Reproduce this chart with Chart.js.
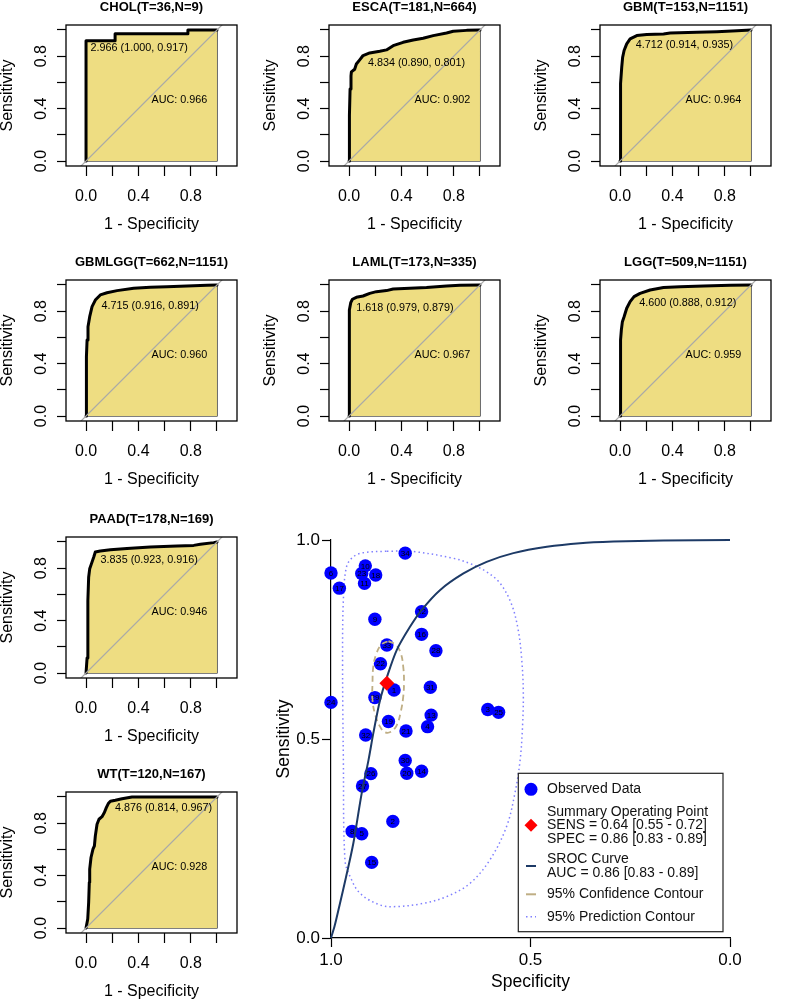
<!DOCTYPE html>
<html>
<head>
<meta charset="utf-8">
<script src="https://cdn.jsdelivr.net/npm/chart.js@4.4.0/dist/chart.umd.min.js"></script>
<style>
  body { margin: 0; background: #fff; width: 796px; height: 1002px; position: relative; overflow: hidden; }
  canvas { position: absolute; }
</style>
</head>
<body>
<script>
Chart.defaults.font.family = '"Liberation Sans", Arial, sans-serif';
Chart.defaults.color = '#000';
Chart.defaults.animation = false;

// per-cancer ROC panels
const PANELS   = ['CHOL', 'ESCA', 'GBM', 'GBMLGG', 'LAML', 'LGG', 'PAAD', 'WT'];
const PANEL_T  = [36, 181, 153, 662, 173, 509, 178, 120];
const PANEL_N  = [9, 664, 1151, 1151, 335, 1151, 169, 167];
const CUTOFFS  = ['2.966', '4.834', '4.712', '4.715', '1.618', '4.600', '3.835', '4.876'];
const CUT_SPEC = [1.000, 0.890, 0.914, 0.916, 0.979, 0.888, 0.923, 0.814];
const CUT_SENS = [0.917, 0.801, 0.935, 0.891, 0.879, 0.912, 0.916, 0.967];
const AUCS     = [0.966, 0.902, 0.964, 0.960, 0.967, 0.959, 0.946, 0.928];

// ROC curves (1 - specificity, sensitivity)
const CHOL_FPR = [0, 0, 0.222, 0.222, 0.778, 0.778, 1];
const CHOL_TPR = [0, 0.917, 0.917, 0.972, 0.972, 1, 1];
const ESCA_FPR = [0, 0.003, 0.008, 0.015, 0.018, 0.043, 0.056, 0.08, 0.107, 0.158, 0.235, 0.286, 0.337, 0.413, 0.49, 0.566, 0.643, 0.745, 0.796, 0.898, 1];
const ESCA_TPR = [0, 0.35, 0.55, 0.65, 0.68, 0.70, 0.74, 0.77, 0.805, 0.825, 0.838, 0.848, 0.88, 0.906, 0.924, 0.937, 0.957, 0.977, 0.99, 0.997, 1];
const GBM_FPR = [0, 0.003, 0.005, 0.013, 0.020, 0.031, 0.051, 0.077, 0.128, 0.204, 0.332, 0.383, 0.587, 0.740, 0.893, 1];
const GBM_TPR = [0, 0.463, 0.59, 0.716, 0.792, 0.843, 0.894, 0.932, 0.957, 0.965, 0.970, 0.977, 0.982, 0.987, 0.995, 1];
const GBMLGG_FPR = [0, 0.003, 0.003, 0.008, 0.015, 0.028, 0.046, 0.071, 0.109, 0.160, 0.237, 0.364, 0.491, 0.618, 0.771, 0.924, 1];
const GBMLGG_TPR = [0, 0.326, 0.453, 0.580, 0.682, 0.758, 0.835, 0.885, 0.924, 0.941, 0.957, 0.975, 0.982, 0.987, 0.992, 0.997, 1];
const LAML_FPR = [0, 0, 0.005, 0.013, 0.026, 0.056, 0.107, 0.158, 0.209, 0.286, 0.337, 0.464, 0.592, 0.745, 0.847, 1];
const LAML_TPR = [0, 0.746, 0.809, 0.865, 0.891, 0.906, 0.916, 0.936, 0.949, 0.957, 0.969, 0.975, 0.980, 0.992, 0.997, 1];
const LGG_FPR = [0, 0.003, 0.005, 0.010, 0.018, 0.031, 0.051, 0.077, 0.107, 0.153, 0.230, 0.332, 0.459, 0.638, 0.842, 1];
const LGG_TPR = [0, 0.504, 0.580, 0.656, 0.720, 0.758, 0.822, 0.873, 0.911, 0.936, 0.962, 0.980, 0.987, 0.992, 0.997, 1];
const PAAD_FPR = [0, 0.008, 0.013, 0.015, 0.020, 0.028, 0.041, 0.059, 0.071, 0.109, 0.186, 0.313, 0.491, 0.695, 0.822, 0.873, 0.975, 1];
const PAAD_TPR = [0, 0.115, 0.321, 0.551, 0.731, 0.795, 0.833, 0.885, 0.923, 0.931, 0.941, 0.951, 0.962, 0.969, 0.974, 0.982, 0.995, 1];
const WT_FPR = [0, 0.013, 0.020, 0.025, 0.028, 0.038, 0.053, 0.064, 0.071, 0.084, 0.099, 0.122, 0.140, 0.155, 0.170, 0.186, 0.224, 0.275, 0.351, 1];
const WT_TPR = [0, 0.069, 0.195, 0.348, 0.449, 0.538, 0.602, 0.627, 0.703, 0.792, 0.830, 0.850, 0.881, 0.919, 0.950, 0.967, 0.975, 0.987, 1.0, 1];

const ROC_FPR = [CHOL_FPR, ESCA_FPR, GBM_FPR, GBMLGG_FPR, LAML_FPR, LGG_FPR, PAAD_FPR, WT_FPR];
const ROC_TPR = [CHOL_TPR, ESCA_TPR, GBM_TPR, GBMLGG_TPR, LAML_TPR, LGG_TPR, PAAD_TPR, WT_TPR];
const ROC_TICKS = [0, 0.2, 0.4, 0.6, 0.8, 1];
const ROC_TICK_LABELS = ['0.0', '', '0.4', '', '0.8', ''];
const DIAG = [-0.2, 1.2];
// outline closing the AUC polygon (right edge and baseline)
const AUC_EDGE_X = [1, 1, 0];
const AUC_EDGE_Y = [1, 0, 0];

// SROC meta-analysis panel
const STUDY_ID   = [1, 2, 3, 4, 5, 6, 8, 9, 10, 11, 12, 13, 14, 15, 16, 17, 18, 19, 20, 21, 22, 23, 24, 25, 26, 27, 28, 29, 30, 31, 32, 33, 34];
const STUDY_SPEC = [0.842, 0.845, 0.607, 0.758, 0.923, 1.000, 0.947, 0.890, 0.914, 0.916, 0.773, 0.749, 0.773, 0.898, 0.773, 0.979, 0.888, 0.856, 0.810, 0.812, 0.876, 0.923, 1.000, 0.580, 0.900, 0.921, 0.737, 0.890, 0.814, 0.751, 0.913, 0.860, 0.814];
const STUDY_SENS = [0.623, 0.293, 0.574, 0.531, 0.262, 0.917, 0.268, 0.801, 0.935, 0.891, 0.820, 0.560, 0.419, 0.190, 0.763, 0.879, 0.912, 0.544, 0.414, 0.520, 0.689, 0.916, 0.592, 0.567, 0.413, 0.382, 0.722, 0.604, 0.446, 0.630, 0.510, 0.736, 0.967];
const SUMMARY_SPEC = [0.86];
const SUMMARY_SENS = [0.64];
const SROC_SPEC = [1.0, 0.991, 0.978, 0.963, 0.944, 0.923, 0.906, 0.894, 0.877, 0.860, 0.835, 0.802, 0.773, 0.727, 0.668, 0.610, 0.543, 0.459, 0.376, 0.292, 0.167, 0.0];
const SROC_SENS = [0.0, 0.03, 0.085, 0.150, 0.238, 0.364, 0.447, 0.514, 0.598, 0.655, 0.724, 0.782, 0.824, 0.874, 0.916, 0.945, 0.967, 0.983, 0.992, 0.996, 0.999, 1.0];
const CONF_SPEC = [0.856, 0.837, 0.825, 0.819, 0.817, 0.819, 0.825, 0.835, 0.850, 0.865, 0.877, 0.889, 0.896, 0.896, 0.894, 0.886, 0.873, 0.856];
const CONF_SENS = [0.746, 0.736, 0.715, 0.682, 0.644, 0.606, 0.569, 0.535, 0.518, 0.517, 0.531, 0.560, 0.598, 0.640, 0.682, 0.715, 0.738, 0.746];
const PRED_SPEC = [0.860, 0.794, 0.693, 0.652, 0.610, 0.576, 0.548, 0.531, 0.522, 0.518, 0.520, 0.526, 0.539, 0.560, 0.602, 0.652, 0.710, 0.769, 0.835, 0.877, 0.927, 0.952, 0.965, 0.969, 0.971, 0.969, 0.961, 0.944, 0.919, 0.860];
const PRED_SENS = [0.972, 0.971, 0.954, 0.941, 0.920, 0.891, 0.840, 0.775, 0.700, 0.615, 0.531, 0.447, 0.364, 0.280, 0.196, 0.137, 0.104, 0.087, 0.079, 0.083, 0.112, 0.154, 0.196, 0.447, 0.698, 0.850, 0.933, 0.958, 0.968, 0.972];
const SROC_TICKS = [0, 0.5, 1];
const LEGEND_TEXT = [
  ['Observed Data'],
  ['Summary Operating Point', 'SENS = 0.64 [0.55 - 0.72]', 'SPEC = 0.86 [0.83 - 0.89]'],
  ['SROC Curve', 'AUC = 0.86 [0.83 - 0.89]'],
  ['95% Confidence Contour'],
  ['95% Prediction Contour']
];

const FONT = '"Liberation Sans", Arial, sans-serif';
const pts = (xs, ys) => xs.map((x, k) => ({ x: x, y: ys[k] }));

function makeCanvas(left, top, w, h) {
  const cv = document.createElement('canvas');
  cv.width = w; cv.height = h;
  cv.style.left = left + 'px'; cv.style.top = top + 'px';
  document.body.appendChild(cv);
  return cv;
}

const boxPlugin = {
  id: 'box',
  afterDatasetsDraw(chart) {
    const { ctx, chartArea: a } = chart;
    ctx.save();
    ctx.strokeStyle = '#000';
    ctx.lineWidth = 1.3;
    ctx.strokeRect(a.left, a.top, a.right - a.left, a.bottom - a.top);
    ctx.restore();
  }
};

function rocText(i) {
  return {
    id: 'rocText',
    afterDatasetsDraw(chart) {
      const { ctx, scales: { x, y } } = chart;
      ctx.save();
      ctx.font = '10.8px ' + FONT;
      ctx.fillStyle = '#000';
      ctx.textAlign = 'left';
      ctx.textBaseline = 'middle';
      const px = x.getPixelForValue(1 - CUT_SPEC[i]);
      const py = y.getPixelForValue(CUT_SENS[i]);
      ctx.fillText(CUTOFFS[i] + ' (' + CUT_SPEC[i].toFixed(3) + ', ' + CUT_SENS[i].toFixed(3) + ')', px + 4.5, py + 7);
      ctx.fillText('AUC: ' + AUCS[i].toFixed(3), x.getPixelForValue(0.5), y.getPixelForValue(0.5) + 4.5);
      ctx.restore();
    }
  };
}

function rocChart(i, left, top) {
  const cv = makeCanvas(left, top, 260, 245);
  const tickSet = s => { s.ticks = ROC_TICKS.map(v => ({ value: v })); };
  new Chart(cv, {
    type: 'scatter',
    data: {
      datasets: [
        { data: DIAG.map(v => ({ x: v, y: v })), showLine: true, borderColor: '#A8A8A8', borderWidth: 1.2, pointRadius: 0, order: 0 },
        { data: pts(ROC_FPR[i], ROC_TPR[i]), showLine: true, fill: 'origin', backgroundColor: '#EEDD82',
          borderColor: '#000', borderWidth: 3, pointRadius: 0, borderJoinStyle: 'round', borderCapStyle: 'round', order: 1 },
        { data: pts(AUC_EDGE_X, AUC_EDGE_Y), showLine: true, borderColor: '#000', borderWidth: 1.2, pointRadius: 0, order: 2 }
      ]
    },
    options: {
      responsive: false,
      animation: false,
      layout: { padding: { left: 0, right: 23, top: 0, bottom: 0 } },
      plugins: {
        legend: { display: false },
        tooltip: { enabled: false },
        title: {
          display: true, fullSize: false,
          text: PANELS[i] + '(T=' + PANEL_T[i] + ',N=' + PANEL_N[i] + ')',
          font: { size: 13, weight: 'bold' },
          padding: { top: 0, bottom: 9.4 }
        }
      },
      scales: {
        x: {
          type: 'linear', min: -0.153, max: 1.153,
          afterBuildTicks: tickSet,
          afterFit: s => { s.height = 79; },
          ticks: { autoSkip: false, maxRotation: 0, padding: 10.9, font: { size: 16 }, callback: (v, k) => ROC_TICK_LABELS[k] },
          grid: { drawOnChartArea: false, tickLength: 10, tickColor: '#000', tickWidth: 1.2 },
          border: { display: false },
          title: { display: true, text: '1 - Specificity', font: { size: 16 }, padding: { top: 0, bottom: 10.4 } }
        },
        y: {
          type: 'linear', min: -0.038, max: 1.038,
          afterBuildTicks: tickSet,
          afterFit: s => { s.width = 66; },
          ticks: { autoSkip: false, minRotation: 90, maxRotation: 90, crossAlign: 'center', padding: 4.5,
                   font: { size: 16 }, callback: (v, k) => ROC_TICK_LABELS[k] },
          grid: { drawOnChartArea: false, tickLength: 9, tickColor: '#000', tickWidth: 1.2 },
          border: { display: false },
          title: { display: true, text: 'Sensitivity', font: { size: 16, lineHeight: 1 }, padding: { top: 0, bottom: 0 } }
        }
      }
    },
    plugins: [boxPlugin, rocText(i)]
  });
}

const SLOTS = [[0, 0], [263, 0], [534, 0], [0, 255], [263, 255], [534, 255], [0, 512], [0, 767]];
PANELS.forEach((p, i) => rocChart(i, SLOTS[i][0], SLOTS[i][1]));

// --- SROC panel ---
// study numbers printed on the observed points
const studyLabels = {
  id: 'studyLabels',
  afterDatasetDraw(chart, args) {
    if (chart.data.datasets[args.index].label !== 'Observed Data') return;
    const ctx = chart.ctx;
    ctx.save();
    ctx.font = '8px ' + FONT;
    ctx.fillStyle = '#000000';
    ctx.textAlign = 'center';
    ctx.textBaseline = 'middle';
    args.meta.data.forEach((el, k) => {
      const p = el.getProps(['x', 'y'], true);
      ctx.fillText(String(STUDY_ID[k]), p.x, p.y + 0.5);
    });
    ctx.restore();
  }
};

const srocLegend = {
  id: 'srocLegend',
  afterDraw(chart) {
    const ctx = chart.ctx;
    const bx = 248.3, by = 253.3, bw = 204.7, bh = 158.4;
    const mx = 261, tx = 277;
    const lineY = [[269.3], [291.7, 305.3, 319.3], [339.3, 353.3], [374.3], [396.7]];
    ctx.save();
    ctx.fillStyle = '#fff';
    ctx.fillRect(bx, by, bw, bh);
    ctx.strokeStyle = '#222';
    ctx.lineWidth = 1.2;
    ctx.strokeRect(bx, by, bw, bh);
    ctx.font = '14px ' + FONT;
    ctx.fillStyle = '#111';
    ctx.textAlign = 'left';
    ctx.textBaseline = 'middle';
    LEGEND_TEXT.forEach((lines, e) => lines.forEach((t, j) => ctx.fillText(t, tx, lineY[e][j])));
    // markers
    ctx.fillStyle = '#0000FF';
    ctx.beginPath(); ctx.arc(mx, lineY[0][0], 6.5, 0, Math.PI * 2); ctx.fill();
    ctx.fillStyle = '#FF0000';
    const dy = lineY[1][1], r = 6.5;
    ctx.beginPath(); ctx.moveTo(mx, dy - r); ctx.lineTo(mx + r, dy); ctx.lineTo(mx, dy + r); ctx.lineTo(mx - r, dy); ctx.closePath(); ctx.fill();
    ctx.lineWidth = 2;
    ctx.strokeStyle = '#1D3A66';
    ctx.beginPath(); ctx.moveTo(mx - 5, 346); ctx.lineTo(mx + 5, 346); ctx.stroke();
    ctx.strokeStyle = '#BFAE84';
    ctx.beginPath(); ctx.moveTo(mx - 5, lineY[3][0]); ctx.lineTo(mx + 5, lineY[3][0]); ctx.stroke();
    ctx.strokeStyle = '#7F7FFF';
    ctx.lineWidth = 1.5;
    ctx.setLineDash([1.5, 3]);
    ctx.beginPath(); ctx.moveTo(mx - 5, lineY[4][0]); ctx.lineTo(mx + 5, lineY[4][0]); ctx.stroke();
    ctx.restore();
  }
};

const srocCanvas = makeCanvas(270, 520, 526, 482);
const srocTicks = s => { s.ticks = SROC_TICKS.map(v => ({ value: v })); };
new Chart(srocCanvas, {
  type: 'scatter',
  data: {
    datasets: [
      { label: 'Summary Operating Point', data: pts(SUMMARY_SPEC, SUMMARY_SENS), pointStyle: 'rectRot', pointRadius: 7.5,
        backgroundColor: '#FF0000', borderWidth: 0, order: 0, clip: false },
      { label: 'SROC Curve', data: pts(SROC_SPEC, SROC_SENS), showLine: true, tension: 0.3, borderColor: '#1D3A66',
        borderWidth: 2, pointRadius: 0, order: 1, clip: false },
      { label: '95% Confidence Contour', data: pts(CONF_SPEC, CONF_SENS), showLine: true, tension: 0.4, borderColor: '#BFAE84',
        borderWidth: 1.8, borderDash: [6, 4], pointRadius: 0, order: 2, clip: false },
      { label: 'Observed Data', data: pts(STUDY_SPEC, STUDY_SENS), pointRadius: 6.7, backgroundColor: '#0000FF',
        borderWidth: 0, order: 3, clip: false },
      { label: '95% Prediction Contour', data: pts(PRED_SPEC, PRED_SENS), showLine: true, tension: 0.35, borderColor: '#7F7FFF',
        borderWidth: 1.5, borderDash: [1.5, 3], pointRadius: 0, order: 4, clip: false }
    ]
  },
  options: {
    responsive: false,
    animation: false,
    layout: { padding: { left: 0, right: 66, top: 20, bottom: 0 } },
    plugins: { legend: { display: false }, tooltip: { enabled: false } },
    scales: {
      x: {
        type: 'linear', min: 0, max: 1, reverse: true,
        afterBuildTicks: srocTicks,
        afterFit: s => { s.height = 64; },
        ticks: { autoSkip: false, maxRotation: 0, padding: 2.8, font: { size: 17 }, callback: v => v.toFixed(1) },
        grid: { drawOnChartArea: false, tickLength: 9, tickColor: '#000', tickWidth: 1.2 },
        border: { display: true, color: '#000', width: 1.2 },
        title: { display: true, text: 'Specificity', font: { size: 17.5 }, padding: { top: 0, bottom: 9.8 } }
      },
      y: {
        type: 'linear', min: 0, max: 1,
        afterBuildTicks: srocTicks,
        afterFit: s => { s.width = 61; },
        ticks: { autoSkip: false, padding: 2, font: { size: 17 }, callback: v => v.toFixed(1) },
        grid: { drawOnChartArea: false, tickLength: 9, tickColor: '#000', tickWidth: 1.2 },
        border: { display: true, color: '#000', width: 1.2 },
        title: { display: true, text: 'Sensitivity', font: { size: 17.5 }, padding: { top: 3.5, bottom: 0 } }
      }
    }
  },
  plugins: [studyLabels, srocLegend]
});
</script>
</body>
</html>
